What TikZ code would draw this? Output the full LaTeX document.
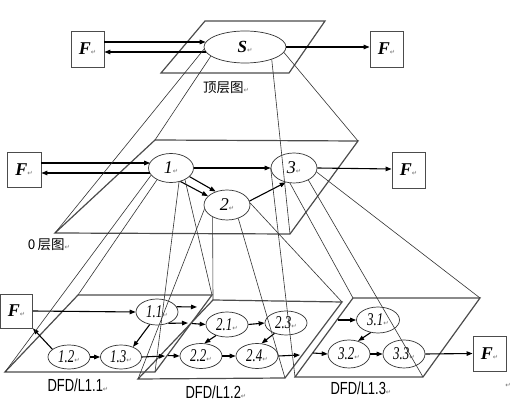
\documentclass[tikz,border=0pt]{standalone}
\usepackage{fontspec}
\setmainfont{Liberation Serif}
\newfontfamily\cjkfont{Noto Sans CJK SC}
\newfontfamily\lsansfont{Liberation Sans}
\newfontfamily\symbfont{DejaVu Sans}
\usetikzlibrary{arrows.meta,shapes.geometric}
\newcommand\retmark{{\symbfont\fontsize{6.5}{6.5}\selectfont\textcolor{black!55}{↵}}}
\newcommand\bigF{{\fontsize{18}{18}\selectfont\bfseries\itshape F}\retmark}
\newcommand\procnum[1]{{\fontsize{18}{18}\selectfont\itshape #1}\retmark}
\newcommand\subnum[1]{\scalebox{0.72}[1]{\fontsize{18}{18}\selectfont\itshape #1}\retmark}
\newcommand\dfdlbl[1]{\scalebox{0.74}[1]{\lsansfont\fontsize{17.5}{17.5}\selectfont #1}\retmark}
\begin{document}
\begin{tikzpicture}[x=1pt,y=-1pt,
  layer/.style={draw=black!70, line width=1.2pt, line join=miter},
  proj/.style={draw=black!80, line width=0.6pt},
  arr/.style={-{Triangle[length=6pt,width=4.5pt]}, line width=1.1pt},
  proc/.style={ellipse, draw=black!80, line width=0.7pt, inner sep=0pt},
  ext/.style={draw=black!70, line width=0.8pt, inner sep=0pt}]
\useasboundingbox (0,0) rectangle (512,403);
\fill[white] (0,0) rectangle (512,403);

% ---------- layer outlines ----------
\coordinate (Ttl) at (205,21);  \coordinate (Ttr) at (325,21);
\coordinate (Tbr) at (289,73);  \coordinate (Tbl) at (161,73);
\coordinate (L0tl) at (155,140); \coordinate (L0tr) at (358,141);
\coordinate (L0br) at (290,234); \coordinate (L0bl) at (55,233);
\coordinate (L11tl) at (78,295);  \coordinate (L11tr) at (212,295);
\coordinate (L11br) at (155,372); \coordinate (L11bl) at (5,372);
\coordinate (L12tl) at (213,300); \coordinate (L12tr) at (342,302);
\coordinate (L12br) at (285,378); \coordinate (L12bl) at (138,379);
\coordinate (L13tl) at (353,298); \coordinate (L13tr) at (480,298);
\coordinate (L13br) at (423,377); \coordinate (L13bl) at (295,377);

\draw[layer] (Ttl) -- (Ttr) -- (Tbr) -- (Tbl) -- cycle;
\draw[layer] (L0tl) -- (L0tr) -- (L0br) -- (L0bl) -- cycle;
\draw[layer] (L11tl) -- (L11tr) -- (L11br) -- (L11bl) -- cycle;
\draw[layer] (L12tl) -- (L12tr) -- (L12br) -- (L12bl) -- cycle;
\draw[layer] (L13tl) -- (L13tr) -- (L13br) -- (L13bl) -- cycle;

% ---------- top layer ----------
\node[proc, minimum width=82pt, minimum height=32pt] (S) at (245,47)
  {{\fontsize{17}{17}\selectfont\bfseries\itshape S}\retmark};
\node[ext, minimum width=33pt, minimum height=36pt] (FT1) at (87.5,49) {\bigF};
\node[ext, minimum width=33pt, minimum height=36pt] (FT2) at (386.5,49) {\bigF};
\node[font=\cjkfont\fontsize{13.5}{13.5}\selectfont] (lblT) at (226,88) {顶层图\retmark};

\draw[arr] ([yshift=7pt]FT1.east) -- ([xshift=2pt,yshift=5pt]S.west);
\draw[arr] ([xshift=2pt,yshift=-5pt]S.west) -- ([yshift=-3pt]FT1.east);
\draw[arr] (S.east) -- ([yshift=2pt]FT2.west);

% ---------- layer 0 ----------
\node[proc, minimum width=45pt, minimum height=29pt] (n1) at (171,168) {\procnum{1}};
\node[proc, minimum width=46pt, minimum height=30pt] (n2) at (227,205) {\procnum{2}};
\node[proc, minimum width=46pt, minimum height=30pt] (n3) at (294,168) {\procnum{3}};
\node[ext, minimum width=34pt, minimum height=35pt] (F0L) at (24,169.5) {\bigF};
\node[ext, minimum width=33pt, minimum height=36pt] (F0R) at (408.5,170) {\bigF};
\node[font=\cjkfont\fontsize{13.5}{13.5}\selectfont] (lbl0) at (49,245) {0\,层图\retmark};

\draw[arr] ([yshift=6.5pt]F0L.east) -- ([xshift=2pt,yshift=5pt]n1.west);
\draw[arr] ([xshift=2pt,yshift=-5pt]n1.west) -- ([yshift=-3.5pt]F0L.east);
\draw[arr] (n1.east) -- (n3.west);
\draw[arr] (n3.east) -- ([yshift=1pt]F0R.west);
\draw[arr] (n1.305) -- (n2.155);
\draw[arr] (n1.335) -- (n2.130);
\draw[arr] (n2.10) -- (n3.240);

% ---------- bottom layer ----------
\node[ext, minimum width=32pt, minimum height=34pt] (FB) at (16.5,311) {\bigF};
\node[ext, minimum width=33pt, minimum height=35pt] (FR) at (489.5,353.5) {\bigF};
\node[proc, minimum width=42pt, minimum height=26pt] (n11) at (157,312) {\subnum{1.1}};
\node[proc, minimum width=42pt, minimum height=24pt] (n12) at (69,357) {\subnum{1.2}};
\node[proc, minimum width=41pt, minimum height=24pt] (n13) at (121,357) {\subnum{1.3}};
\node[proc, minimum width=42pt, minimum height=25pt] (n21) at (227,324.5) {\subnum{2.1}};
\node[proc, minimum width=42pt, minimum height=25pt] (n22) at (201,356) {\subnum{2.2}};
\node[proc, minimum width=42pt, minimum height=24pt] (n23) at (286,323) {\subnum{2.3}};
\node[proc, minimum width=42pt, minimum height=25pt] (n24) at (257,356) {\subnum{2.4}};
\node[proc, minimum width=43pt, minimum height=26pt] (n31) at (378,320) {\subnum{3.1}};
\node[proc, minimum width=42pt, minimum height=28pt] (n32) at (349,354) {\subnum{3.2}};
\node[proc, minimum width=42pt, minimum height=28pt] (n33) at (404,354) {\subnum{3.3}};

\node (lbl11) at (78,385) {\dfdlbl{DFD/L1.1}};
\node (lbl12) at (216,392) {\dfdlbl{DFD/L1.2}};
\node (lbl13) at (361,388) {\dfdlbl{DFD/L1.3}};
\node (endmark) at (508,385) {\retmark};

\coordinate (o11a) at (197,307);
\coordinate (o11b) at (188,323);
\coordinate (i21) at (192,323.5);
\coordinate (o13) at (165,356);
\coordinate (i22) at (168,355.5);
\coordinate (o24) at (300,355);
\coordinate (i31) at (338,320);
\coordinate (i32) at (313,353);

\draw[arr] (FB.east) -- (n11.west);
\draw[arr] (n12.155) -- (FB.south east);
\draw[arr] (n12.east) -- (n13.west);
\draw[arr] (n11.240) -- (n13.40);
\draw[arr] (n11.15) -- (o11a);
\draw[arr] (n11.315) -- (o11b);
\draw[arr] (i21) -- (n21.west);
\draw[arr] (n13.east) -- (o13);
\draw[arr] (i22) -- (n22.west);
\draw[arr] (n21.east) -- (n23.west);
\draw[arr] (n21.225) -- (n22.75);
\draw[arr] (n22.east) -- (n24.west);
\draw[arr] (n23.222) -- (n24.70);
\draw[arr] (n24.east) -- (o24);
\draw[arr] (i31) -- (n31.west);
\draw[arr] (i32) -- (n32.west);
\draw[arr] (n31.240) -- (n32.55);
\draw[arr] (n32.east) -- (n33.west);
\draw[arr] (n33.east) -- (FR.west);

% ---------- projection lines ----------
\draw[proj] (S.183) -- (L0bl);
\draw[proj] (S.195) -- (L0tl);
\draw[proj] (S.335) -- (L0br);
\draw[proj] (S.352) -- (L0tr);

\draw[proj] (n1.200) -- (L11bl);
\draw[proj] (n1.220) -- (L11tl);
\draw[proj] (n1.300) -- (L11br);
\draw[proj] (n1.320) -- (L11tr);

\draw[proj] (n2.190) -- (L12bl);
\draw[proj] (n2.220) -- (L12tl);
\draw[proj] (n2.310) -- (L12br);
\draw[proj] (n2.5) -- (L12tr);

\draw[proj] (n3.180) -- (L13bl);
\draw[proj] (n3.255) -- (L13tl);
\draw[proj] (n3.320) -- (L13br);
\draw[proj] (n3.350) -- (L13tr);
\end{tikzpicture}
\end{document}
